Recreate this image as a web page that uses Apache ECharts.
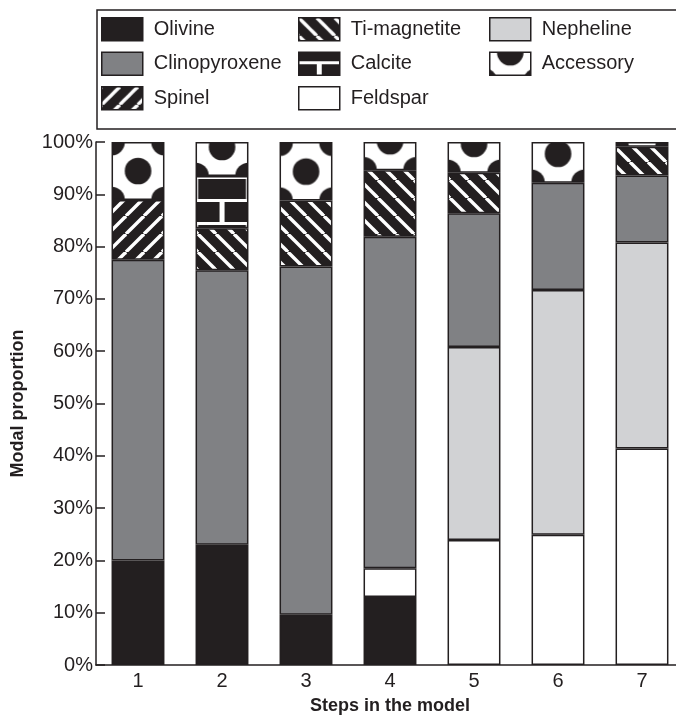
<!DOCTYPE html>
<html>
<head>
<meta charset="utf-8">
<script src="https://cdn.jsdelivr.net/npm/echarts@6/dist/echarts.min.js"></script>
<style>
  html, body { margin: 0; padding: 0; background: #fff; }
  #chart { width: 676px; height: 718px; }
</style>
</head>
<body>
<div id="chart"></div>
<script>
// Modal mineralogy per model step (percent of the total)
const steps = ['1', '2', '3', '4', '5', '6', '7'];
const olivine       = [20, 23, 9.6, 13, null, null, null];
const feldspar      = [null, null, null, 5.5, 23.9, 24.9, 41.4];
const nepheline     = [null, null, null, null, 36.9, 46.8, 39.4];
const clinopyroxene = [57.5, 52.5, 66.6, 63.4, 25.6, 20.5, 12.8];
const spinel        = [11.4, null, null, null, null, null, null];
const tiMagnetite   = [null, 8, 12.6, 12.7, 7.7, null, 5.5];
const calcite       = [null, 10, null, null, null, null, null];
const accessory     = [11.1, 6.5, 11.2, 5.4, 5.9, 7.8, 0.9];
const yTicks = [0, 10, 20, 30, 40, 50, 60, 70, 80, 90, 100];

const INK = '#231f20';
const FONT = '"Liberation Sans", Arial, sans-serif';

// ---- fill patterns -------------------------------------------------------
function stripeTile(dir) {
  const P = 18;
  const c = document.createElement('canvas');
  c.width = P; c.height = P;
  const g = c.getContext('2d');
  g.fillStyle = INK; g.fillRect(0, 0, P, P);
  g.strokeStyle = '#fff'; g.lineWidth = 3.4;
  [-P, 0, P].forEach(k => {
    g.beginPath();
    if (dir === '/') { g.moveTo(k, P); g.lineTo(k + P, 0); }
    else { g.moveTo(k, 0); g.lineTo(k + P, P); }
    g.stroke();
  });
  return c;
}

const TILE_W = 53;
function dotTile() {
  const W = TILE_W, H = 58, r = 13.3;
  const c = document.createElement('canvas');
  c.width = W; c.height = H;
  const g = c.getContext('2d');
  g.fillStyle = '#fff'; g.fillRect(0, 0, W, H);
  g.fillStyle = INK;
  [[W / 2, H / 2], [0, 0], [W, 0], [0, H], [W, H]].forEach(([x, y]) => {
    g.beginPath(); g.arc(x, y, r, 0, Math.PI * 2); g.fill();
  });
  return c;
}
const DOT_H = 58;

function brickTile() {
  const W = TILE_W, H = 46, m = 3, j = 5;
  const c = document.createElement('canvas');
  c.width = W; c.height = H;
  const g = c.getContext('2d');
  g.fillStyle = '#fff'; g.fillRect(0, 0, W, H);
  g.fillStyle = INK;
  // upper course: joints at the tile edges
  g.fillRect(j / 2, m, W - j, 20);
  // lower course: joint in the middle
  g.fillRect(0, 23 + m, W / 2 - j / 2, 20);
  g.fillRect(W / 2 + j / 2, 23 + m, W / 2 - j / 2, 20);
  return c;
}

const slashTile = stripeTile('/');
const backTile = stripeTile('\\');
const dots = dotTile();
const bricks = brickTile();

const pat = (image, x, y) => ({ image: image, repeat: 'repeat', x: x || 0, y: y || 0 });

// ---- chart -------------------------------------------------------------
const seriesDefs = [
  { name: 'Olivine',       data: olivine,       color: INK },
  { name: 'Feldspar',      data: feldspar,      color: '#ffffff' },
  { name: 'Nepheline',     data: nepheline,     color: '#d1d2d4' },
  { name: 'Clinopyroxene', data: clinopyroxene, color: '#808184' },
  { name: 'Spinel',        data: spinel,        color: pat(slashTile) },
  { name: 'Ti-magnetite',  data: tiMagnetite,   color: pat(backTile) },
  { name: 'Calcite',       data: calcite,       color: pat(bricks, -6, -14) },
  { name: 'Accessory',     data: accessory,     color: pat(dots, -6, -29) }
];

const legendCommon = {
  orient: 'vertical',
  icon: 'rect',
  padding: 0,
  itemWidth: 41,
  itemHeight: 23,
  itemGap: 10,
  top: 17,
  selectedMode: false,
  itemStyle: { borderColor: INK, borderWidth: 1.5 },
  textStyle: { fontFamily: FONT, fontSize: 20, color: INK, padding: [0, 0, 0, 6] }
};

function buildOption(itemData) {
  return {
    animation: false,
    backgroundColor: '#fff',
    textStyle: { fontFamily: FONT },
    graphic: [{
      type: 'rect',
      shape: { x: 97, y: 10, width: 640, height: 119 },
      style: { fill: 'none', stroke: INK, lineWidth: 1.5 },
      z: 0
    }],
    legend: [
      Object.assign({}, legendCommon, { left: 101, data: ['Olivine', 'Clinopyroxene', 'Spinel'] }),
      Object.assign({}, legendCommon, { left: 298, data: ['Ti-magnetite', 'Calcite', 'Feldspar'] }),
      Object.assign({}, legendCommon, { left: 489, data: ['Nepheline', 'Accessory'] })
    ],
    grid: { left: 96, top: 142, width: 588, height: 523, outerBoundsMode: 'none' },
    xAxis: {
      type: 'category',
      data: steps,
      boundaryGap: true,
      name: 'Steps in the model',
      nameLocation: 'middle',
      nameGap: 32,
      nameTextStyle: { fontFamily: FONT, fontSize: 18, fontWeight: 'bold', color: INK },
      axisLine: { lineStyle: { color: INK, width: 1.5 } },
      axisTick: { inside: true, length: 9, lineStyle: { color: INK, width: 1.5 } },
      axisLabel: { fontFamily: FONT, fontSize: 20, color: INK, margin: 6 },
      splitLine: { show: false }
    },
    yAxis: {
      type: 'value',
      min: yTicks[0],
      max: yTicks[yTicks.length - 1],
      interval: yTicks[1] - yTicks[0],
      name: 'Modal proportion',
      nameLocation: 'middle',
      nameGap: 69,
      nameTextStyle: { fontFamily: FONT, fontSize: 18, fontWeight: 'bold', color: INK },
      axisLine: { show: true, lineStyle: { color: INK, width: 1.5 } },
      axisTick: { show: true, inside: true, length: 9, lineStyle: { color: INK, width: 1.5 } },
      axisLabel: { fontFamily: FONT, fontSize: 20, color: INK, margin: 3, formatter: '{value}%' },
      splitLine: { show: false }
    },
    series: seriesDefs.map((s, i) => ({
      name: s.name,
      type: 'bar',
      stack: 'mode',
      barWidth: '63%',
      itemStyle: { color: s.color, borderColor: INK, borderWidth: 1.5 },
      emphasis: { disabled: true },
      data: itemData[i]
    }))
  };
}

const chart = echarts.init(document.getElementById('chart'), null, { renderer: 'canvas' });
chart.setOption(buildOption(seriesDefs.map(s => s.data)));

// Anchor the brick and dot fills to each bar segment so every segment
// shows the motif from its own corner.
const band = chart.convertToPixel({ gridIndex: 0 }, [1, 0])[0] - chart.convertToPixel({ gridIndex: 0 }, [0, 0])[0];
const barW = band * 0.63;
function below(idx, seriesIndex) {
  let sum = 0;
  for (let k = 0; k < seriesIndex; k++) {
    const v = seriesDefs[k].data[idx];
    if (v != null) sum += v;
  }
  return sum;
}
const itemData = seriesDefs.map((s, si) => s.data.map((v, idx) => {
  if (v == null) return null;
  if (s.name !== 'Accessory' && s.name !== 'Calcite') return v;
  const cx = chart.convertToPixel({ gridIndex: 0 }, [idx, 0])[0];
  const left = cx - barW / 2;
  const base = below(idx, si);
  if (s.name === 'Accessory') {
    const yBottom = chart.convertToPixel({ gridIndex: 0 }, [idx, base])[1];
    return { value: v, itemStyle: { color: pat(dots, left, yBottom - DOT_H) } };
  }
  const yTop = chart.convertToPixel({ gridIndex: 0 }, [idx, base + v])[1];
  return { value: v, itemStyle: { color: pat(bricks, left, yTop) } };
}));
chart.setOption(buildOption(itemData), true);
</script>
</body>
</html>
